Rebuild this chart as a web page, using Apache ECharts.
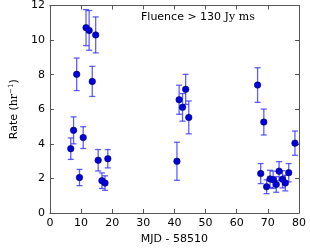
<!DOCTYPE html>
<html><head><meta charset="utf-8">
<script src="https://cdn.jsdelivr.net/npm/echarts@6/dist/echarts.min.js"></script>
<style>html,body{margin:0;padding:0;background:#fff}#c{width:310px;height:250px}</style>
</head><body><div id="c"></div>
<script>
var mjd = [6.7, 7.6, 8.6, 9.5, 10.7, 11.6, 12.6, 13.6, 14.7, 15.5, 16.7, 17.7, 18.6,
           40.8, 41.5, 42.6, 43.6, 44.6,
           66.7, 67.7, 68.7, 69.6, 70.7, 71.7, 72.7, 73.6, 74.7, 75.6, 76.7, 78.7];
var rate = [3.72, 4.78, 8.02, 2.05, 4.36, 10.72, 10.56, 7.61, 10.3, 3.05, 1.87, 1.73, 3.14,
            2.99, 6.55, 6.11, 7.15, 5.53,
            7.4, 2.28, 5.26, 1.52, 1.97, 1.92, 1.65, 2.42, 1.95, 1.73, 2.33, 4.04];
var rateErr = [0.62, 0.78, 0.94, 0.47, 0.63, 1.04, 1.15, 0.87, 1.04, 0.62, 0.45, 0.42, 0.53,
               1.1, 0.84, 0.8, 0.87, 0.95,
               1.0, 0.58, 0.75, 0.4, 0.5, 0.5, 0.45, 0.55, 0.5, 0.45, 0.53, 0.7];
var xTicks = [0, 10, 20, 30, 40, 50, 60, 70, 80];
var yTicks = [0, 2, 4, 6, 8, 10, 12];

var pts = mjd.map(function(x, i){ return [x, rate[i]]; });
var errData = mjd.map(function(x, i){ return [x, rate[i] - rateErr[i], rate[i] + rateErr[i]]; });

var axisColor = '#555';
var sans = 'DejaVu Sans';
var serif = 'DejaVu Serif';

var chart = echarts.init(document.getElementById('c'), null, {renderer: 'canvas'});
function baseX(show){
  return {
    type: 'value', min: xTicks[0], max: xTicks[xTicks.length-1], interval: 10,
    axisLine: {show: true, onZero: false, lineStyle: {color: axisColor, width: 1}},
    axisTick: {show: true, inside: true, length: 4, lineStyle: {color: axisColor}},
    axisLabel: {show: show, color: '#000', fontFamily: sans, fontSize: 11, margin: 5},
    splitLine: {show: false}
  };
}
function baseY(show){
  return {
    type: 'value', min: yTicks[0], max: yTicks[yTicks.length-1], interval: 2,
    axisLine: {show: true, onZero: false, lineStyle: {color: axisColor, width: 1}},
    axisTick: {show: true, inside: true, length: 4, lineStyle: {color: axisColor}},
    axisLabel: {show: show, color: '#000', fontFamily: sans, fontSize: 11, margin: 5},
    splitLine: {show: false}
  };
}
var xa = baseX(true);
xa.name = 'MJD - 58510'; xa.nameLocation = 'middle'; xa.nameGap = 21;
xa.nameTextStyle = {color: '#000', fontFamily: sans, fontSize: 11};
var xb = baseX(false); xb.position = 'top';
var ya = baseY(true);
ya.name = '{a|Rate (}{b|hr}{s|−1}{a|)}'; ya.nameLocation = 'middle'; ya.nameGap = 24;
ya.nameTextStyle = {rich: {
  a: {color: '#000', fontFamily: sans, fontSize: 11},
  b: {color: '#000', fontFamily: serif, fontSize: 11},
  s: {color: '#000', fontFamily: serif, fontSize: 7, verticalAlign: 'top', padding: [0,0,6,0]}
}};
var yb = baseY(false); yb.position = 'right';

chart.setOption({
  animation: false,
  grid: {left: 39, top: 5, width: 260, height: 208, containLabel: false},
  xAxis: [xa, xb],
  yAxis: [ya, yb],
  graphic: [{
    type: 'text', left: 141, top: 12,
    style: {
      text: '{a|Fluence > 130 }{b|Jy ms}',
      rich: {
        a: {fill: '#000', fontFamily: sans, fontSize: 11},
        b: {fill: '#000', fontFamily: serif, fontSize: 11}
      }
    }
  }],
  series: [{
    type: 'custom',
    xAxisIndex: 0, yAxisIndex: 0,
    data: errData,
    renderItem: function(params, api){
      var x = api.value(0);
      var lo = api.coord([x, api.value(1)]);
      var hi = api.coord([x, api.value(2)]);
      var hw = 3;
      var st = {stroke: '#2a2aff', lineWidth: 1.3, opacity: 0.75};
      return {type: 'group', children: [
        {type: 'line', shape: {x1: lo[0], y1: lo[1], x2: hi[0], y2: hi[1]}, style: st},
        {type: 'line', shape: {x1: lo[0]-hw, y1: lo[1], x2: lo[0]+hw, y2: lo[1]}, style: st},
        {type: 'line', shape: {x1: hi[0]-hw, y1: hi[1], x2: hi[0]+hw, y2: hi[1]}, style: st}
      ]};
    },
    z: 2
  }, {
    type: 'scatter',
    xAxisIndex: 0, yAxisIndex: 0,
    data: pts,
    symbol: 'circle', symbolSize: 6.5,
    itemStyle: {color: '#0000dd', borderColor: '#000066', borderWidth: 0.6, opacity: 1},
    z: 3
  }]
});
</script></body></html>
